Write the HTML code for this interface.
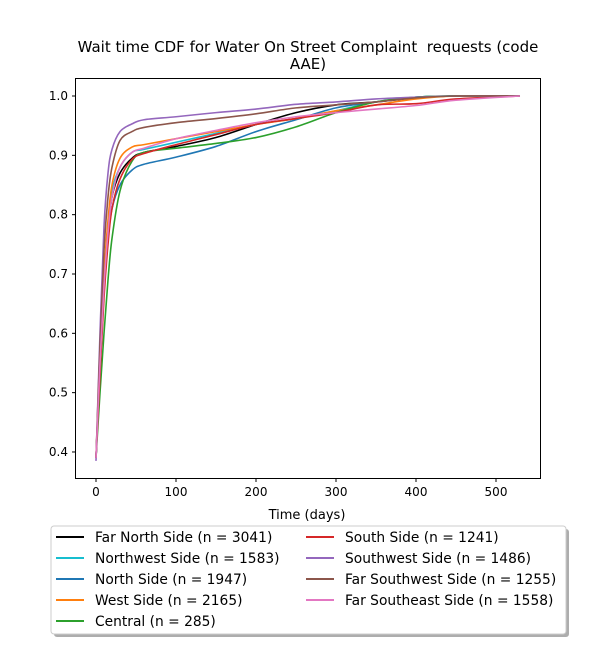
<!DOCTYPE html>
<html><head><meta charset="utf-8"><style>
body{margin:0;background:#fff;font-family:"Liberation Sans","DejaVu Sans",sans-serif}
</style></head><body>
<svg id="chart" width="600" height="650" xmlns="http://www.w3.org/2000/svg" font-family="DejaVu Sans, Liberation Sans, sans-serif">
<rect width="600" height="650" fill="#fff"/>
<text x="308" y="52" text-anchor="middle" font-size="15">Wait time CDF for Water On Street Complaint&#160; requests (code</text>
<text x="308" y="69" text-anchor="middle" font-size="15">AAE)</text>
<g id="plot"></g>
<rect x="75.5" y="78.5" width="465" height="400" fill="none" stroke="#000" stroke-width="1"/>
<text x="307" y="519" text-anchor="middle" font-size="13">Time (days)</text>
<g>
<rect x="54" y="529" width="515" height="108" rx="3" fill="#999" opacity="0.8"/>
<rect x="51" y="526" width="515" height="108" rx="3" fill="#fff" stroke="#ccc"/>
<g id="legend-items"></g>
</g>
</svg>
<script>
const categories=["Far North Side (n = 3041)","Northwest Side (n = 1583)","North Side (n = 1947)","West Side (n = 2165)","Central (n = 285)","South Side (n = 1241)","Southwest Side (n = 1486)","Far Southwest Side (n = 1255)","Far Southeast Side (n = 1558)"];
const colors=["#000000","#17becf","#1f77b4","#ff7f0e","#2ca02c","#d62728","#9467bd","#8c564b","#e377c2"];
const days=[0,5,10,15,20,30,45,60,100,150,200,250,300,350,400,450,530];
const farNorth=[0.39,0.55,0.68,0.77,0.83,0.87,0.895,0.905,0.915,0.93,0.952,0.972,0.985,0.99,0.997,1,1];
const northwest=[0.39,0.55,0.69,0.78,0.84,0.88,0.905,0.91,0.922,0.937,0.952,0.962,0.975,0.99,0.998,1,1];
const north=[0.39,0.54,0.67,0.76,0.81,0.85,0.875,0.885,0.897,0.915,0.94,0.96,0.98,0.99,0.998,1,1];
const west=[0.39,0.56,0.7,0.79,0.85,0.895,0.914,0.918,0.928,0.94,0.952,0.962,0.975,0.985,0.995,1,1];
const central=[0.39,0.5,0.6,0.69,0.76,0.84,0.89,0.905,0.912,0.92,0.93,0.948,0.972,0.99,0.998,1,1];
const south=[0.39,0.53,0.66,0.75,0.81,0.86,0.893,0.903,0.918,0.935,0.952,0.962,0.972,0.985,0.987,0.995,1];
const southwest=[0.385,0.6,0.78,0.87,0.91,0.94,0.953,0.96,0.965,0.972,0.978,0.986,0.99,0.995,0.998,1,1];
const farSouthwest=[0.39,0.58,0.74,0.83,0.88,0.925,0.94,0.947,0.955,0.962,0.97,0.98,0.985,0.99,0.997,1,1];
const farSoutheast=[0.39,0.55,0.68,0.77,0.83,0.88,0.905,0.912,0.928,0.942,0.955,0.965,0.972,0.978,0.984,0.993,1];
const series=[farNorth,northwest,north,west,central,south,southwest,farSouthwest,farSoutheast];
const xTicks=[0,100,200,300,400,500];
const yTicks=[0.4,0.5,0.6,0.7,0.8,0.9,1.0];
const X=d=>96+d*0.8;
const Y=v=>96+(1-v)*593.3;
const NS="http://www.w3.org/2000/svg";
const plot=document.getElementById('plot');
function mk(t,a){const e=document.createElementNS(NS,t);for(const k in a)e.setAttribute(k,a[k]);return e;}
xTicks.forEach(t=>{
 const g=mk('g',{});
 
 
 g.appendChild(mk('line',{x1:X(t),x2:X(t),y1:478.5,y2:482,stroke:'#000'}));
 const tx=mk('text',{x:X(t),y:496,'text-anchor':'middle','font-size':12});tx.textContent=t;g.appendChild(tx);
 plot.appendChild(g);
});
yTicks.forEach(t=>{
 const g=mk('g',{});
 
 
 g.appendChild(mk('line',{x1:72,x2:75.5,y1:Y(t),y2:Y(t),stroke:'#000'}));
 const tx=mk('text',{x:68,y:Y(t)+4,'text-anchor':'end','font-size':12});tx.textContent=t.toFixed(1);g.appendChild(tx);
 plot.appendChild(g);
});
function smooth(p){
 let d=`M${p[0][0]},${p[0][1]}`;
 for(let i=0;i<p.length-1;i++){
  const p0=p[i-1]||p[i],p1=p[i],p2=p[i+1],p3=p[i+2]||p2;
  const c1=[p1[0]+(p2[0]-p0[0])/6,p1[1]+(p2[1]-p0[1])/6];
  const c2=[p2[0]-(p3[0]-p1[0])/6,p2[1]-(p3[1]-p1[1])/6];
  d+=`C${c1[0]},${c1[1]} ${c2[0]},${c2[1]} ${p2[0]},${p2[1]}`;
 }
 return d;
}
series.forEach((s,i)=>{
 const pts=days.map((d,j)=>[X(d),Y(s[j])]);
 const path=mk('path',{d:smooth(pts),fill:'none',stroke:colors[i],'stroke-width':1.6});
 
 
 plot.appendChild(path);
});
const li=document.getElementById('legend-items');
categories.forEach((c,i)=>{
 const col=i<5?0:1,row=i<5?i:i-5;
 const x0=col?306:56,y0=537+row*21;
 const g=mk('g',{});
 
 
 g.appendChild(mk('line',{x1:x0,x2:x0+28,y1:y0,y2:y0,stroke:colors[i],'stroke-width':2}));
 const t=mk('text',{x:x0+39,y:y0+5,'font-size':13.8});t.textContent=c;g.appendChild(t);
 li.appendChild(g);
});
</script>
</body></html>
